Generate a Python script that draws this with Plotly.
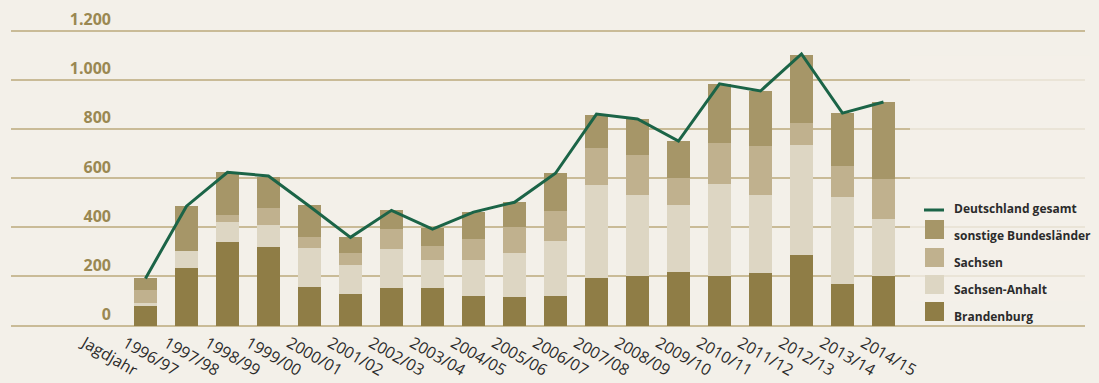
import plotly.graph_objects as go

# Jagdjahre (hunting seasons)
seasons = ["1996/97", "1997/98", "1998/99", "1999/00", "2000/01", "2001/02", "2002/03",
           "2003/04", "2004/05", "2005/06", "2006/07", "2007/08", "2008/09", "2009/10",
           "2010/11", "2011/12", "2012/13", "2013/14", "2014/15"]

brandenburg = [78, 234, 339, 318, 155, 127, 151, 151, 122, 118, 122, 192, 200, 216, 200, 212, 286, 171, 200]
sachsen_anhalt = [12, 68, 81, 90, 159, 118, 159, 114, 143, 176, 221, 379, 331, 274, 376, 319, 449, 351, 233]
sachsen = [53, 0, 29, 70, 45, 49, 82, 57, 86, 106, 122, 151, 163, 110, 167, 200, 89, 127, 163]
sonstige = [49, 184, 175, 126, 131, 65, 77, 74, 110, 102, 155, 135, 147, 151, 241, 224, 278, 216, 314]
deutschland = [192, 486, 624, 609, 486, 359, 469, 393, 462, 502, 620, 861, 841, 751, 984, 955, 1106, 865, 910]

y_ticks = [0, 200, 400, 600, 800, 1000, 1200]
axis_label = "Jagdjahr"

BG = "#F3F0E9"
GRID = "#C9BB97"
GREEN = "#1B6447"
C_BB = "#8F7D46"
C_ST = "#DDD6C3"
C_SN = "#C0B18E"
C_SO = "#A69668"
TICK_Y = "#9A8852"
TEXT = "#2B2B2B"

W, H = 1099, 383
ML, MR, MT, MB = 11, 14, 21, 55
PW, PH = W - ML - MR, H - MT - MB


def px_x(px):
    return (px - ML) / PW


def px_y(py):
    return (H - MB - py) / PH


stack = [
    ("Brandenburg", brandenburg, C_BB),
    ("Sachsen-Anhalt", sachsen_anhalt, C_ST),
    ("Sachsen", sachsen, C_SN),
    ("sonstige Bundesländer", sonstige, C_SO),
]

fig = go.Figure()
for name, vals, col in stack:
    fig.add_bar(x=seasons, y=vals, name=name, marker_color=col,
                marker_line_width=0, showlegend=False)
fig.add_scatter(x=seasons, y=deutschland, name="Deutschland gesamt", mode="lines",
                line=dict(color=GREEN, width=3), showlegend=False)

# lighter panel behind the legend
shapes = [dict(type="rect", xref="paper", yref="y", x0=px_x(910), x1=px_x(1090),
               y0=100, y1=1100, fillcolor="rgba(243,240,233,0.78)",
               line=dict(width=0), layer="above")]
annotations = []

# hand-built legend: line sample then colour squares, top to bottom
legend_rows = [("Deutschland gesamt", GREEN, "line")] + \
              [(n, c, "rect") for n, _, c in reversed(stack)]
row_y = [208, 235, 262, 289, 316]
sq_y = [None, 229.5, 257.5, 284.5, 311.5]
for i, (name, col, kind) in enumerate(legend_rows):
    if kind == "line":
        shapes.append(dict(type="line", xref="paper", yref="paper",
                           x0=px_x(924), x1=px_x(944), y0=px_y(210), y1=px_y(210),
                           line=dict(color=col, width=3), layer="above"))
    else:
        shapes.append(dict(type="rect", xref="paper", yref="paper",
                           x0=px_x(925), x1=px_x(944),
                           y0=px_y(sq_y[i] - 9.5), y1=px_y(sq_y[i] + 9.5),
                           fillcolor=col, line=dict(width=0), layer="above"))
    annotations.append(dict(text=name, xref="paper", yref="paper",
                            x=px_x(952), y=px_y(row_y[i]), xanchor="left", yanchor="middle",
                            showarrow=False,
                            font=dict(family="Open Sans", size=12, color=TEXT, weight="bold")))

fig.update_layout(
    width=W, height=H,
    margin=dict(l=ML, r=MR, t=MT, b=MB, pad=0),
    paper_bgcolor=BG, plot_bgcolor=BG,
    barmode="stack", bargap=0.44,
    separators=",.",
    shapes=shapes, annotations=annotations,
    showlegend=False,
    xaxis=dict(type="category", categoryorder="array",
               categoryarray=[axis_label] + seasons,
               range=[-2.28, 23.915], tickangle=30,
               ticklabelshift=-20, ticklabelstandoff=2,
               showgrid=False, zeroline=False, showline=False, ticks="",
               tickfont=dict(family="Open Sans", size=16, color=TEXT),
               automargin=False),
    yaxis=dict(range=[-10, 1240], tickvals=y_ticks, tickformat=",d",
               showgrid=True, gridcolor=GRID, gridwidth=2,
               zeroline=False, showline=False, ticks="",
               anchor="free", position=px_x(111), ticklabelposition="outside top",
               tickfont=dict(family="Open Sans", size=16, color=TICK_Y, weight="bold"),
               automargin=False),
)

fig.write_html("out.html")
